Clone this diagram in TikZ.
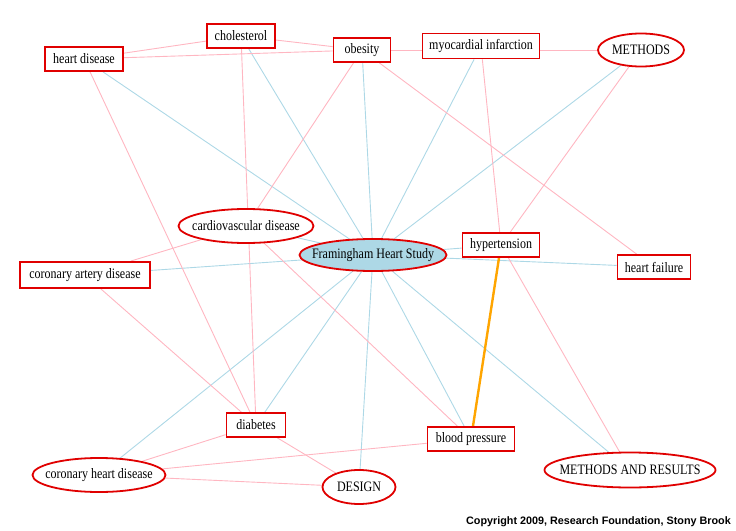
\documentclass[tikz,border=0pt]{standalone}
\usepackage{fontspec}
\setmainfont{Liberation Serif}
\newfontfamily\copyfont{Liberation Sans}
\usetikzlibrary{shapes.geometric,backgrounds}
\definecolor{edgepink}{HTML}{FFB6C1}
\definecolor{edgeblue}{HTML}{ADD8E6}
\definecolor{nodered}{HTML}{E00000}
\definecolor{hotorange}{HTML}{FFA500}
\newcommand{\lbltxt}[1]{\scalebox{1}[1.2]{#1}}
\tikzset{
  base/.style={draw=nodered, line width=1.8pt, fill=white, inner sep=0pt, align=center,
    font=\fontsize{12}{14}\selectfont},
  boxnode/.style={base, rectangle},
  ovalnode/.style={base, ellipse},
  ovaltext/.style={label={[font=\fontsize{12}{14}\selectfont, inner sep=0pt]center:\lbltxt{#1}}},
  pinkedge/.style={draw=edgepink, line width=0.9pt},
  blueedge/.style={draw=edgeblue, line width=0.9pt},
  orangeedge/.style={draw=hotorange, line width=2.4pt},
}
\begin{document}
\begin{tikzpicture}[x=1pt,y=-1pt]
\useasboundingbox (0,0) rectangle (736,530);
% nodes
\node[boxnode, minimum width=78pt, minimum height=24pt] (hd) at (84,59) {\lbltxt{heart disease}};
\node[boxnode, minimum width=68pt, minimum height=24pt] (chol) at (241,36) {\lbltxt{cholesterol}};
\node[boxnode, minimum width=57pt, minimum height=24pt] (ob) at (362,50) {\lbltxt{obesity}};
\node[boxnode, minimum width=117pt, minimum height=25pt] (mi) at (481,46) {\lbltxt{myocardial infarction}};
\node[ovalnode, minimum width=86pt, minimum height=33pt, ovaltext={METHODS}] (meth) at (641,50) {};
\node[ovalnode, minimum width=135pt, minimum height=34pt, ovaltext={cardiovascular disease}] (cvd) at (246,226) {};
\node[ovalnode, fill=edgeblue, minimum width=147pt, minimum height=32pt, ovaltext={Framingham Heart Study}] (fhs) at (373,255) {};
\node[boxnode, minimum width=77pt, minimum height=24pt] (hyp) at (501,245) {\lbltxt{hypertension}};
\node[boxnode, minimum width=73pt, minimum height=24pt] (hf) at (654,267) {\lbltxt{heart failure}};
\node[boxnode, minimum width=130pt, minimum height=26pt] (cad) at (85,275) {\lbltxt{coronary artery disease}};
\node[boxnode, minimum width=59pt, minimum height=24pt] (diab) at (256,425) {\lbltxt{diabetes}};
\node[boxnode, minimum width=87pt, minimum height=24pt] (bp) at (471,439) {\lbltxt{blood pressure}};
\node[ovalnode, minimum width=133pt, minimum height=34pt, ovaltext={coronary heart disease}] (chd) at (99,475) {};
\node[ovalnode, minimum width=73pt, minimum height=34pt, ovaltext={DESIGN}] (design) at (359,487) {};
\node[ovalnode, minimum width=171pt, minimum height=35pt, ovaltext={METHODS AND RESULTS}] (mar) at (630,470) {};
\node[font=\copyfont\bfseries\fontsize{10.8}{12}\selectfont, anchor=east, inner sep=0pt] (copy) at (731,522) {Copyright 2009, Research Foundation, Stony Brook};
% edges
\begin{pgfonlayer}{background}
\foreach \t in {hd,chol,ob,mi,meth,hyp,hf,cad,cvd,diab,chd,design,bp,mar}
  \draw[blueedge] (fhs) -- (\t);
\draw[pinkedge] (hd) -- (chol);
\draw[pinkedge] (hd) -- (ob);
\draw[pinkedge] (chol) -- (ob);
\draw[pinkedge] (ob) -- (meth);
\draw[pinkedge] (ob) -- (hf);
\draw[pinkedge] (ob) -- (cvd);
\draw[pinkedge] (chol) -- (diab);
\draw[pinkedge] (hd) -- (diab);
\draw[pinkedge] (mi) -- (hyp);
\draw[pinkedge] (meth) -- (hyp);
\draw[pinkedge] (hyp) -- (mar);
\draw[pinkedge] (cvd) -- (cad);
\draw[pinkedge] (cvd) -- (bp);
\draw[pinkedge] (cad) -- (diab);
\draw[pinkedge] (diab) -- (chd);
\draw[pinkedge] (diab) -- (design);
\draw[pinkedge] (chd) -- (design);
\draw[pinkedge] (chd) -- (bp);
\draw[orangeedge] (hyp) -- (bp);
\end{pgfonlayer}
\end{tikzpicture}
\end{document}
